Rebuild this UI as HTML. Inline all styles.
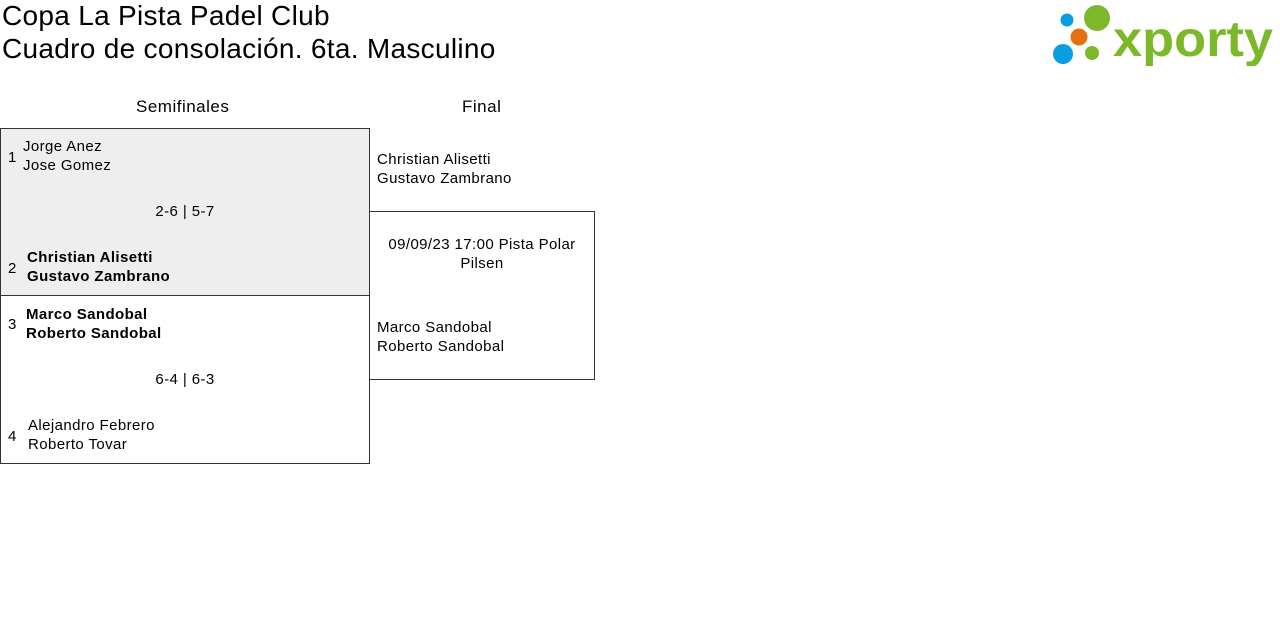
<!DOCTYPE html>
<html><head><meta charset="utf-8"><style>
body{margin:0;width:1280px;height:628px;background:#fff;font-family:"Liberation Sans",sans-serif;color:#000;position:relative;overflow:hidden}
.a{position:absolute;white-space:nowrap}
.t{font-size:28px;left:2px;letter-spacing:0.3px}
.s{font-size:15px;line-height:19px;letter-spacing:0.4px}
.b{font-weight:bold}
.box{position:absolute;border:1px solid #333;box-sizing:border-box}
</style></head><body>
<div class="a t" style="top:0px">Copa La Pista Padel Club</div>
<div class="a t" style="top:33px">Cuadro de consolación. 6ta. Masculino</div>
<svg class="a" style="left:1050px;top:4px" width="226" height="62" viewBox="1050 4 226 62">
<circle cx="1067" cy="20" r="6.5" fill="#0b9de3"/>
<circle cx="1097" cy="18" r="13" fill="#7cb82a"/>
<circle cx="1079" cy="37" r="8.5" fill="#e5700f"/>
<circle cx="1063" cy="54" r="10" fill="#0b9de3"/>
<circle cx="1092" cy="53" r="7" fill="#7cb82a"/>
<text x="1113" y="56" font-family="Liberation Sans,sans-serif" font-weight="bold" font-size="50" fill="#7cb82a" textLength="160" lengthAdjust="spacingAndGlyphs">xporty</text>
</svg>
<div class="a" style="left:136px;top:97px;font-size:17px;letter-spacing:0.5px">Semifinales</div>
<div class="a" style="left:462px;top:97px;font-size:17px;letter-spacing:0.5px">Final</div>
<div class="box" style="left:0;top:128px;width:370px;height:168px;background:#eeeeee"></div>
<div class="box" style="left:0;top:295px;width:370px;height:169px"></div>
<div class="box" style="left:369px;top:211px;width:226px;height:169px"></div>
<div class="a s" style="left:8px;top:148px">1</div>
<div class="a s" style="left:23px;top:137px">Jorge Anez<br>Jose Gomez</div>
<div class="a s" style="left:0;width:370px;text-align:center;top:202px">2-6 | 5-7</div>
<div class="a s" style="left:8px;top:259px">2</div>
<div class="a s b" style="left:27px;top:248px">Christian Alisetti<br>Gustavo Zambrano</div>
<div class="a s" style="left:8px;top:315px">3</div>
<div class="a s b" style="left:26px;top:305px">Marco Sandobal<br>Roberto Sandobal</div>
<div class="a s" style="left:0;width:370px;text-align:center;top:370px">6-4 | 6-3</div>
<div class="a s" style="left:8px;top:427px">4</div>
<div class="a s" style="left:28px;top:416px">Alejandro Febrero<br>Roberto Tovar</div>
<div class="a s" style="left:377px;top:150px">Christian Alisetti<br>Gustavo Zambrano</div>
<div class="a s" style="left:369px;width:226px;text-align:center;top:235px">09/09/23 17:00 Pista Polar<br>Pilsen</div>
<div class="a s" style="left:377px;top:318px">Marco Sandobal<br>Roberto Sandobal</div>
</body></html>
